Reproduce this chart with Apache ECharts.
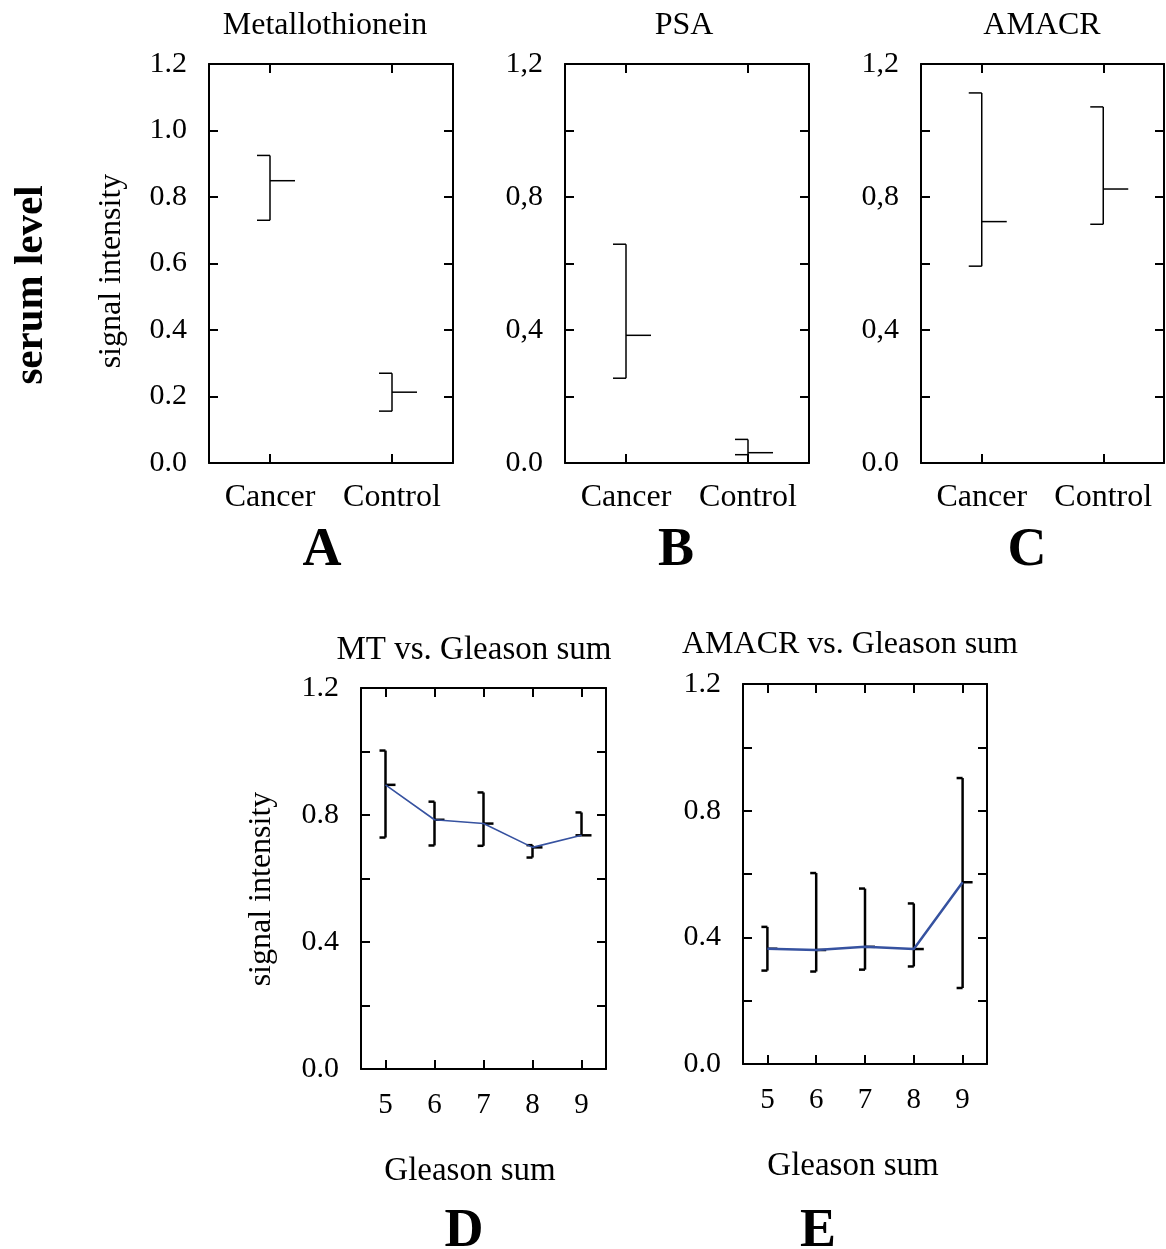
<!DOCTYPE html>
<html>
<head>
<meta charset="utf-8">
<script src="https://cdn.jsdelivr.net/npm/echarts@6/dist/echarts.min.js"></script>
<style>
html,body{margin:0;padding:0;background:#fff;}
#chart{width:1166px;height:1249px;}
</style>
</head>
<body>
<div id="chart"></div>
<script>
// ---- data ----
const groupCats = ['Cancer', 'Control'];
const mtMean = [0.849, 0.213];
const mtLow = [0.730, 0.156];
const mtHigh = [0.925, 0.270];
const psaMean = [0.384, 0.031];
const psaLow = [0.255, 0.025];
const psaHigh = [0.658, 0.071];
const amacrMean = [0.726, 0.824];
const amacrLow = [0.592, 0.718];
const amacrHigh = [1.113, 1.071];
const gleasonCats = ['5', '6', '7', '8', '9'];
const mtGsMean = [0.895, 0.785, 0.773, 0.698, 0.736];
const mtGsLow = [0.729, 0.704, 0.703, 0.666, 0.736];
const mtGsHigh = [1.003, 0.842, 0.871, 0.705, 0.808];
const amGsMean = [0.364, 0.360, 0.370, 0.363, 0.574];
const amGsLow = [0.295, 0.292, 0.298, 0.308, 0.240];
const amGsHigh = [0.433, 0.603, 0.554, 0.507, 0.903];
const ticksA = ['0.0', '0.2', '0.4', '0.6', '0.8', '1.0', '1.2'];
const ticksBC = ['0.0', '', '0,4', '', '0,8', '', '1,2'];
const ticksDE = ['0.0', '', '0.4', '', '0.8', '', '1.2'];

const FONT = "'Liberation Serif', 'Times New Roman', serif";
const BLUE = '#3652a0';

const grids = [
  {left: 209, top: 64, width: 244, height: 399},
  {left: 565, top: 64, width: 244, height: 399},
  {left: 921, top: 64, width: 243, height: 399},
  {left: 361, top: 688, width: 245, height: 381},
  {left: 743, top: 684, width: 244, height: 380}
];
const panelCats = [groupCats, groupCats, groupCats, gleasonCats, gleasonCats];
const panelTicks = [ticksA, ticksBC, ticksBC, ticksDE, ticksDE];
const catFont = [32, 32, 32, 29, 29];
const valFont = [30, 30, 30, 30, 30];

const axisLineStyle = {show: true, onZero: false, lineStyle: {color: '#000', width: 2}};
const tickStyle = {show: true, inside: true, length: 9, lineStyle: {color: '#000', width: 2}};

const xAxes = [], yAxes = [];
grids.forEach((g, i) => {
  xAxes.push({
    gridIndex: i, type: 'category', data: panelCats[i], position: 'bottom',
    axisLine: axisLineStyle, axisTick: Object.assign({alignWithLabel: true, interval: 0}, tickStyle),
    axisLabel: {color: '#000', fontFamily: FONT, fontSize: catFont[i], interval: 0, hideOverlap: false,
      margin: i < 3 ? 19 : 22},
    splitLine: {show: false}
  });
  xAxes.push({
    gridIndex: i, type: 'category', data: panelCats[i], position: 'top',
    axisLine: axisLineStyle, axisTick: Object.assign({alignWithLabel: true, interval: 0}, tickStyle),
    axisLabel: {show: false}, splitLine: {show: false}
  });
  const labels = panelTicks[i];
  yAxes.push({
    gridIndex: i, type: 'value', min: 0, max: 1.2, interval: 0.2, position: 'left',
    axisLine: axisLineStyle, axisTick: tickStyle,
    axisLabel: {color: '#000', fontFamily: FONT, fontSize: valFont[i], margin: 22,
      formatter: v => labels[Math.round(v / 0.2)] || ''},
    splitLine: {show: false}
  });
  yAxes.push({
    gridIndex: i, type: 'value', min: 0, max: 1.2, interval: 0.2, position: 'right',
    axisLine: axisLineStyle, axisTick: tickStyle,
    axisLabel: {show: false}, splitLine: {show: false}
  });
});

function errRender(capL, meanR, lw) {
  return function (params, api) {
    const x = api.value(0);
    const lo = api.coord([x, api.value(1)]);
    const hi = api.coord([x, api.value(2)]);
    const m = api.coord([x, api.value(3)]);
    const st = {stroke: '#000', lineWidth: lw};
    return {
      type: 'group',
      children: [
        {type: 'line', shape: {x1: lo[0], y1: lo[1], x2: hi[0], y2: hi[1]}, style: st},
        {type: 'line', shape: {x1: hi[0] - capL, y1: hi[1], x2: hi[0], y2: hi[1]}, style: st},
        {type: 'line', shape: {x1: lo[0] - capL, y1: lo[1], x2: lo[0], y2: lo[1]}, style: st},
        {type: 'line', shape: {x1: m[0], y1: m[1], x2: m[0] + meanR, y2: m[1]}, style: st}
      ]
    };
  };
}

function errData(lo, hi, mean) {
  return mean.map((v, i) => [i, lo[i], hi[i], v]);
}

const panelData = [
  [mtLow, mtHigh, mtMean],
  [psaLow, psaHigh, psaMean],
  [amacrLow, amacrHigh, amacrMean],
  [mtGsLow, mtGsHigh, mtGsMean],
  [amGsLow, amGsHigh, amGsMean]
];

const series = [];
panelData.forEach((d, i) => {
  const top = i < 3;
  series.push({
    type: 'custom', xAxisIndex: i * 2, yAxisIndex: i * 2,
    renderItem: top ? errRender(13, 25, 1.5) : errRender(6, 10, 2.5),
    data: errData(d[0], d[1], d[2]),
    encode: {x: 0, y: [1, 2, 3]}, silent: true, z: 2
  });
});
series.push({
  type: 'line', xAxisIndex: 6, yAxisIndex: 6, data: mtGsMean, symbol: 'none',
  lineStyle: {color: BLUE, width: 1.6}, z: 3, silent: true
});
series.push({
  type: 'line', xAxisIndex: 8, yAxisIndex: 8, data: amGsMean, symbol: 'none',
  lineStyle: {color: BLUE, width: 2.5}, z: 3, silent: true
});

function txt(text, x, y, size, opts) {
  opts = opts || {};
  return {
    type: 'text', x: x, y: y, rotation: opts.rot || 0,
    style: {
      text: text, x: 0, y: 0, fill: '#000', align: 'center', verticalAlign: 'middle',
      font: (opts.bold ? 'bold ' : '') + size + 'px ' + FONT
    }
  };
}

const graphics = [
  txt('Metallothionein', 325, 26, 32),
  txt('PSA', 684, 26, 32),
  txt('AMACR', 1042, 26, 32),
  txt('A', 322, 551, 54, {bold: true}),
  txt('B', 676, 551, 54, {bold: true}),
  txt('C', 1027, 551, 54, {bold: true}),
  txt('serum level', 31, 285, 41, {bold: true, rot: Math.PI / 2}),
  txt('signal intensity', 112, 271, 32, {rot: Math.PI / 2}),
  txt('MT vs. Gleason sum', 474, 650, 33),
  txt('AMACR vs. Gleason sum', 850, 645, 32),
  txt('signal intensity', 262, 889, 32, {rot: Math.PI / 2}),
  txt('Gleason sum', 470, 1171, 33),
  txt('Gleason sum', 853, 1166, 33),
  txt('D', 464, 1232, 54, {bold: true}),
  txt('E', 818, 1232, 54, {bold: true})
];

const chart = echarts.init(document.getElementById('chart'), null, {renderer: 'canvas'});
chart.setOption({
  backgroundColor: '#fff',
  animation: false,
  grid: grids,
  xAxis: xAxes,
  yAxis: yAxes,
  series: series,
  graphic: graphics
});
</script>
</body>
</html>
